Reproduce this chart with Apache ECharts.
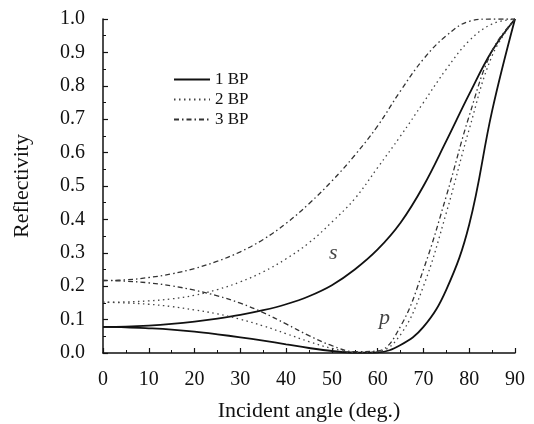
<!DOCTYPE html>
<html>
<head>
<meta charset="utf-8">
<script src="https://cdn.jsdelivr.net/npm/echarts@6/dist/echarts.min.js"></script>
<style>html,body{margin:0;padding:0;background:#fff;}#c{width:534px;height:424px;}</style>
</head>
<body>
<div id="c"></div>
<script>
const angles = [0,5,10,15,20,25,30,35,40,45,50,55,60,65,70,75,80,85,90];
const s1 = [.078,.079,.082,.087,.094,.103,.114,.128,.146,.170,.203,.250,.310,.390,.500,.635,.775,.905,1.0];
const p1 = [.078,.077,.074,.070,.064,.056,.047,.037,.026,.015,.006,.001,.002,.024,.078,.190,.385,.725,1.0];
const s2 = [.152,.153,.156,.162,.173,.190,.213,.243,.282,.330,.392,.462,.555,.650,.750,.850,.935,.985,1.0];
const p2 = [.152,.150,.146,.139,.129,.117,.101,.081,.058,.034,.014,.002,.004,.055,.200,.420,.670,.890,1.0];
const s3 = [.217,.219,.226,.237,.253,.275,.303,.340,.388,.447,.515,.592,.680,.785,.880,.950,.993,1.0,1.0];
const p3 = [.217,.215,.210,.201,.188,.171,.149,.121,.087,.052,.022,.004,.006,.080,.250,.470,.710,.905,1.0];
const legendNames = ['1 BP','2 BP','3 BP'];
const annotations = [{text:'s', x:50.3, y:0.30}, {text:'p', x:61.5, y:0.105}];

const pairs = arr => angles.map((a,i)=>[a, arr[i]]);
const styles = [
  {color:'#111', width:1.8, type:'solid'},
  {color:'#444', width:1.3, type:[1.5,3.5]},
  {color:'#333', width:1.3, type:[5,3,1.5,3]}
];
const groups = [[s1,p1],[s2,p2],[s3,p3]];
const series = [];
groups.forEach((g,k)=>{
  g.forEach(arr=>{
    series.push({
      name: legendNames[k], type:'line', data: pairs(arr), smooth:0.4,
      showSymbol:false, symbol:'none', silent:true,
      lineStyle:{color:styles[k].color, width:styles[k].width, type:styles[k].type},
      itemStyle:{color:styles[k].color}
    });
  });
});
series.push({
  name:'annot', type:'scatter', symbolSize:0, silent:true,
  data: annotations.map(a=>({value:[a.x,a.y], label:{formatter:a.text}})),
  label:{show:true, position:'inside', fontFamily:'Liberation Serif', fontStyle:'italic', fontSize:22, color:'#111'}
});

const chart = echarts.init(document.getElementById('c'), null, {renderer:'canvas'});
const serif = 'Liberation Serif';
chart.setOption({
  backgroundColor:'#fff',
  animation:false,
  grid:{left:103, right:19, top:19, bottom:71, containLabel:false, outerBoundsMode:'none'},
  legend:{
    data: legendNames.map(n=>({name:n, itemStyle:{opacity:0}})),
    orient:'vertical', left:168, top:66,
    itemWidth:36, itemHeight:12, itemGap:3,
    itemStyle:{opacity:0},
    textStyle:{fontFamily:serif, fontSize:17, color:'#111'}
  },
  xAxis:{
    type:'value', min:0, max:90, interval:10,
    name:'Incident angle (deg.)', nameLocation:'middle', nameGap:47,
    nameTextStyle:{fontFamily:serif, fontSize:22, color:'#111'},
    axisLine:{lineStyle:{color:'#111', width:1.5}},
    axisTick:{inside:true, length:5, lineStyle:{color:'#111', width:1.2}},
    minorTick:{show:true, splitNumber:2, length:3, lineStyle:{color:'#111', width:1}},
    axisLabel:{fontFamily:serif, fontSize:20, color:'#111', margin:17},
    splitLine:{show:false}
  },
  yAxis:{
    type:'value', min:0, max:1, interval:0.1,
    name:'Reflectivity', nameLocation:'middle', nameGap:70, nameRotate:90,
    nameTextStyle:{fontFamily:serif, fontSize:22, color:'#111'},
    axisLine:{show:true, lineStyle:{color:'#111', width:1.5}},
    axisTick:{show:true, inside:true, length:5, lineStyle:{color:'#111', width:1.2}},
    minorTick:{show:true, splitNumber:2, length:3, lineStyle:{color:'#111', width:1}},
    axisLabel:{fontFamily:serif, fontSize:20, color:'#111', margin:18, formatter:v=>v.toFixed(1)},
    splitLine:{show:false}
  },
  series: series
});
</script>
</body>
</html>
